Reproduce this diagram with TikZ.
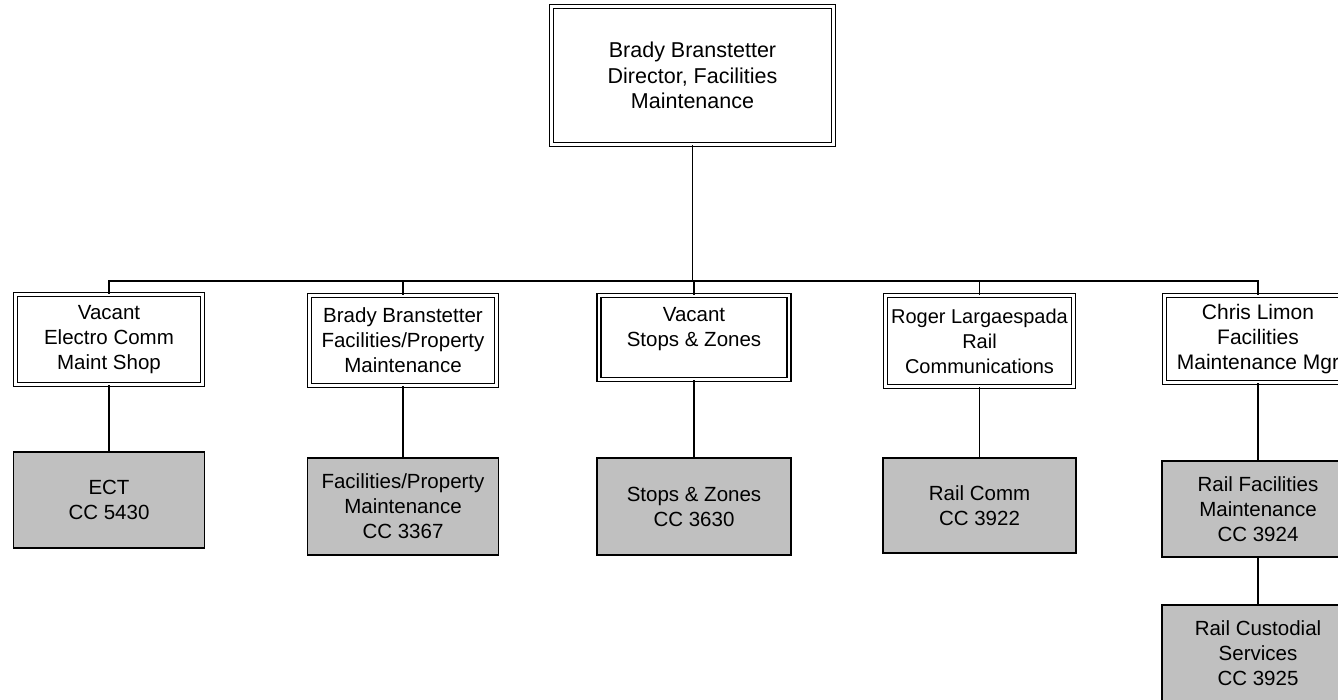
\documentclass[tikz,border=0pt]{standalone}
\usepackage{fontspec}
\setmainfont{Liberation Sans}
\definecolor{boxgrey}{HTML}{C0C0C0}
\begin{document}
\begin{tikzpicture}[x=1pt,y=-1pt,
  every node/.style={font=\fontsize{20.5}{25}\selectfont, align=center, inner sep=0pt},
  mgr/.style={draw, double, double distance=2.2pt, line width=1.45pt, minimum width=187pt},
  unit/.style={draw, fill=boxgrey, line width=1.4pt, minimum width=191pt, minimum height=95pt},
  link/.style={line width=1.4pt}]
\useasboundingbox (0,0) rectangle (1338,699);
\clip (0,0) rectangle (1338,699);
\fill[white] (0,0) rectangle (1338,699);

% director
\node[mgr, minimum width=282pt, minimum height=138pt, font=\fontsize{21.5}{25.5}\selectfont] (top) at (692.5,75.5)
  {Brady Branstetter\\Director, Facilities\\Maintenance};

% managers
\node[mgr, minimum height=90pt] (a) at (109,339.5) {Vacant\\Electro Comm\\Maint Shop};
\node[mgr, minimum height=90pt] (b) at (403,340.5) {Brady Branstetter\\Facilities/Property\\Maintenance};
\node[mgr, minimum width=190pt, minimum height=84pt] (c) at (694,337.5) {};
\node (ct) at (694,329) {Vacant\\Stops \& Zones};
\node[mgr, minimum width=188pt, minimum height=91pt, font=\fontsize{20}{25}\selectfont] (d) at (979.5,341) {Roger Largaespada\\Rail\\Communications};
\node[mgr, minimum height=87pt, font=\fontsize{21}{25}\selectfont] (e) at (1258,339) {Chris Limon\\Facilities\\Maintenance Mgr};

% cost centres
\node[unit, minimum height=96pt] (ua) at (109,500) {ECT\\CC 5430};
\node[unit, minimum height=97pt] (ub) at (403,506.5) {Facilities/Property\\Maintenance\\CC 3367};
\node[unit, minimum width=194pt, minimum height=97pt] (uc) at (694,506.5) {Stops \& Zones\\CC 3630};
\node[unit, minimum width=193pt] (ud) at (979.5,505.5) {Rail Comm\\CC 3922};
\node[unit, minimum width=192pt, minimum height=96pt] (ue) at (1258,509) {Rail Facilities\\Maintenance\\CC 3924};
\node[unit, minimum width=192pt, minimum height=96pt] (uf) at (1258,653) {Rail Custodial\\Services\\CC 3925};

% connectors
\coordinate (bus) at (0,281);
\draw[link] (top.south) -- (top.south |- bus);
\foreach \n in {a,b,c,d,e} {
  \draw[link] (top.south |- bus) -| (\n.north);
}
\draw[link] (a.south) -- (ua.north);
\draw[link] (b.south) -- (ub.north);
\draw[link] (c.south) -- (uc.north);
\draw[link] (d.south) -- (ud.north);
\draw[link] (e.south) -- (ue.north);
\draw[link] (ue.south) -- (uf.north);
\end{tikzpicture}
\end{document}
